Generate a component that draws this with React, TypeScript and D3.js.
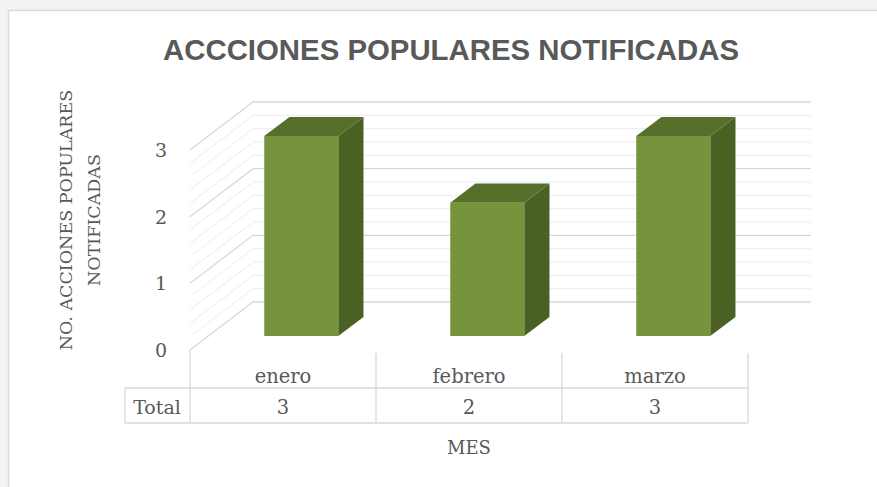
import * as React from "react";
import * as d3 from "d3";

const categories = ["enero", "febrero", "marzo"];
const values = [3, 2, 3];
const yTicks = [0, 1, 2, 3];
const title = "ACCCIONES POPULARES NOTIFICADAS";
const yLabelLines = ["NO. ACCIONES POPULARES", "NOTIFICADAS"];
const xLabel = "MES";
const rowLabel = "Total";

const W = 877;
const H = 487;
const textColor = "#595959";
const gridMajor = "#d9d9d9";
const gridMinor = "#ebebeb";
const serif = "'DejaVu Serif', 'Liberation Serif', serif";

// depth of the 3d box
const DX = 63;
const DY = -48;
const Z0 = 0.29;
const Z1 = 0.69;

const App = () => {
  const y = d3.scaleLinear().domain([0, 3]).range([350, 150]);
  const x = d3.scaleBand().domain(categories).range([190, 748]);
  const barW = 74;

  const p = (xf: number, v: number, z: number) => [xf + DX * z, y(v) + DY * z];
  const pts = (arr: number[][]) => arr.map((d) => d.join(",")).join(" ");

  const minor = d3.range(0, 3.0001, 0.2).filter((v) => Math.abs(v - Math.round(v)) > 0.01);

  const x0 = x.range()[0];
  const x1 = x.range()[1];

  return (
    <div style={{ position: "absolute", left: 0, top: 0 }}>
      <svg width={W} height={H} style={{ display: "block" }}>
        <rect x={0} y={0} width={W} height={H} fill="#f3f3f5" />
        <rect x={8.5} y={10.5} width={W} height={H} fill="#ffffff" stroke="#d9d9d9" strokeWidth={1.5} />

        <text x={451} y={60} textAnchor="middle" fontFamily="'Liberation Sans', Arial, sans-serif"
          fontWeight="bold" fontSize={30} fill={textColor} textLength={576} lengthAdjust="spacingAndGlyphs">
          {title}
        </text>

        {/* walls: minor grid */}
        {minor.map((v, i) => {
          const a = p(x0, v, 0);
          const b = p(x0, v, 1);
          const c = p(x1, v, 1);
          return (
            <polyline key={"mn" + i} points={pts([a, b, c])} fill="none" stroke={gridMinor} strokeWidth={1} />
          );
        })}
        {/* walls: major grid */}
        {yTicks.map((v) => {
          const a = p(x0, v, 0);
          const b = p(x0, v, 1);
          const c = p(x1, v, 1);
          return (
            <polyline key={"mj" + v} points={pts([a, b, c])} fill="none" stroke={gridMajor} strokeWidth={1.3} />
          );
        })}

        {/* bars */}
        {categories.map((c, i) => {
          const bx = (x(c) as number) + (x.bandwidth() - barW) / 2;
          const v = values[i];
          const front = [p(bx, 0, Z0), p(bx + barW, 0, Z0), p(bx + barW, v, Z0), p(bx, v, Z0)];
          const top = [p(bx, v, Z0), p(bx + barW, v, Z0), p(bx + barW, v, Z1), p(bx, v, Z1)];
          const side = [p(bx + barW, 0, Z0), p(bx + barW, 0, Z1), p(bx + barW, v, Z1), p(bx + barW, v, Z0)];
          return (
            <g key={c}>
              <polygon points={pts(side)} fill="#4b6124" />
              <polygon points={pts(top)} fill="#56702b" />
              <polygon points={pts(front)} fill="#77933c" />
            </g>
          );
        })}

        {/* y tick labels */}
        {yTicks.map((v) => (
          <text key={"t" + v} x={161} y={y(v) + 7} textAnchor="middle" fontFamily={serif} fontSize={19} fill={textColor}>
            {v}
          </text>
        ))}

        {/* y axis title */}
        <text transform="translate(66,220) rotate(-90)" textAnchor="middle" fontFamily={serif} fontSize={17.5} fill={textColor}>
          <tspan x={0} y={6}>{yLabelLines[0]}</tspan>
          <tspan x={0} y={34}>{yLabelLines[1]}</tspan>
        </text>

        {/* data table */}
        <g stroke={gridMajor} strokeWidth={1.3}>
          <line x1={125} x2={x1} y1={388} y2={388} />
          <line x1={125} x2={x1} y1={423} y2={423} />
          <line x1={125} x2={125} y1={388} y2={423} />
          <line x1={x0} x2={x0} y1={350} y2={423} />
          {categories.map((c) => (
            <line key={"v" + c} x1={(x(c) as number) + x.bandwidth()} x2={(x(c) as number) + x.bandwidth()} y1={353} y2={423} />
          ))}
        </g>
        {categories.map((c, i) => (
          <g key={"lbl" + c} fontFamily={serif} fontSize={19.5} fill={textColor} textAnchor="middle">
            <text x={(x(c) as number) + x.bandwidth() / 2} y={383}>{c}</text>
            <text x={(x(c) as number) + x.bandwidth() / 2} y={414}>{values[i]}</text>
          </g>
        ))}
        <text x={157} y={414} textAnchor="middle" fontFamily={serif} fontSize={19} fill={textColor}>{rowLabel}</text>
        <text x={469} y={454} textAnchor="middle" fontFamily={serif} fontSize={18} fill={textColor}>{xLabel}</text>
      </svg>
    </div>
  );
};

export default App;
